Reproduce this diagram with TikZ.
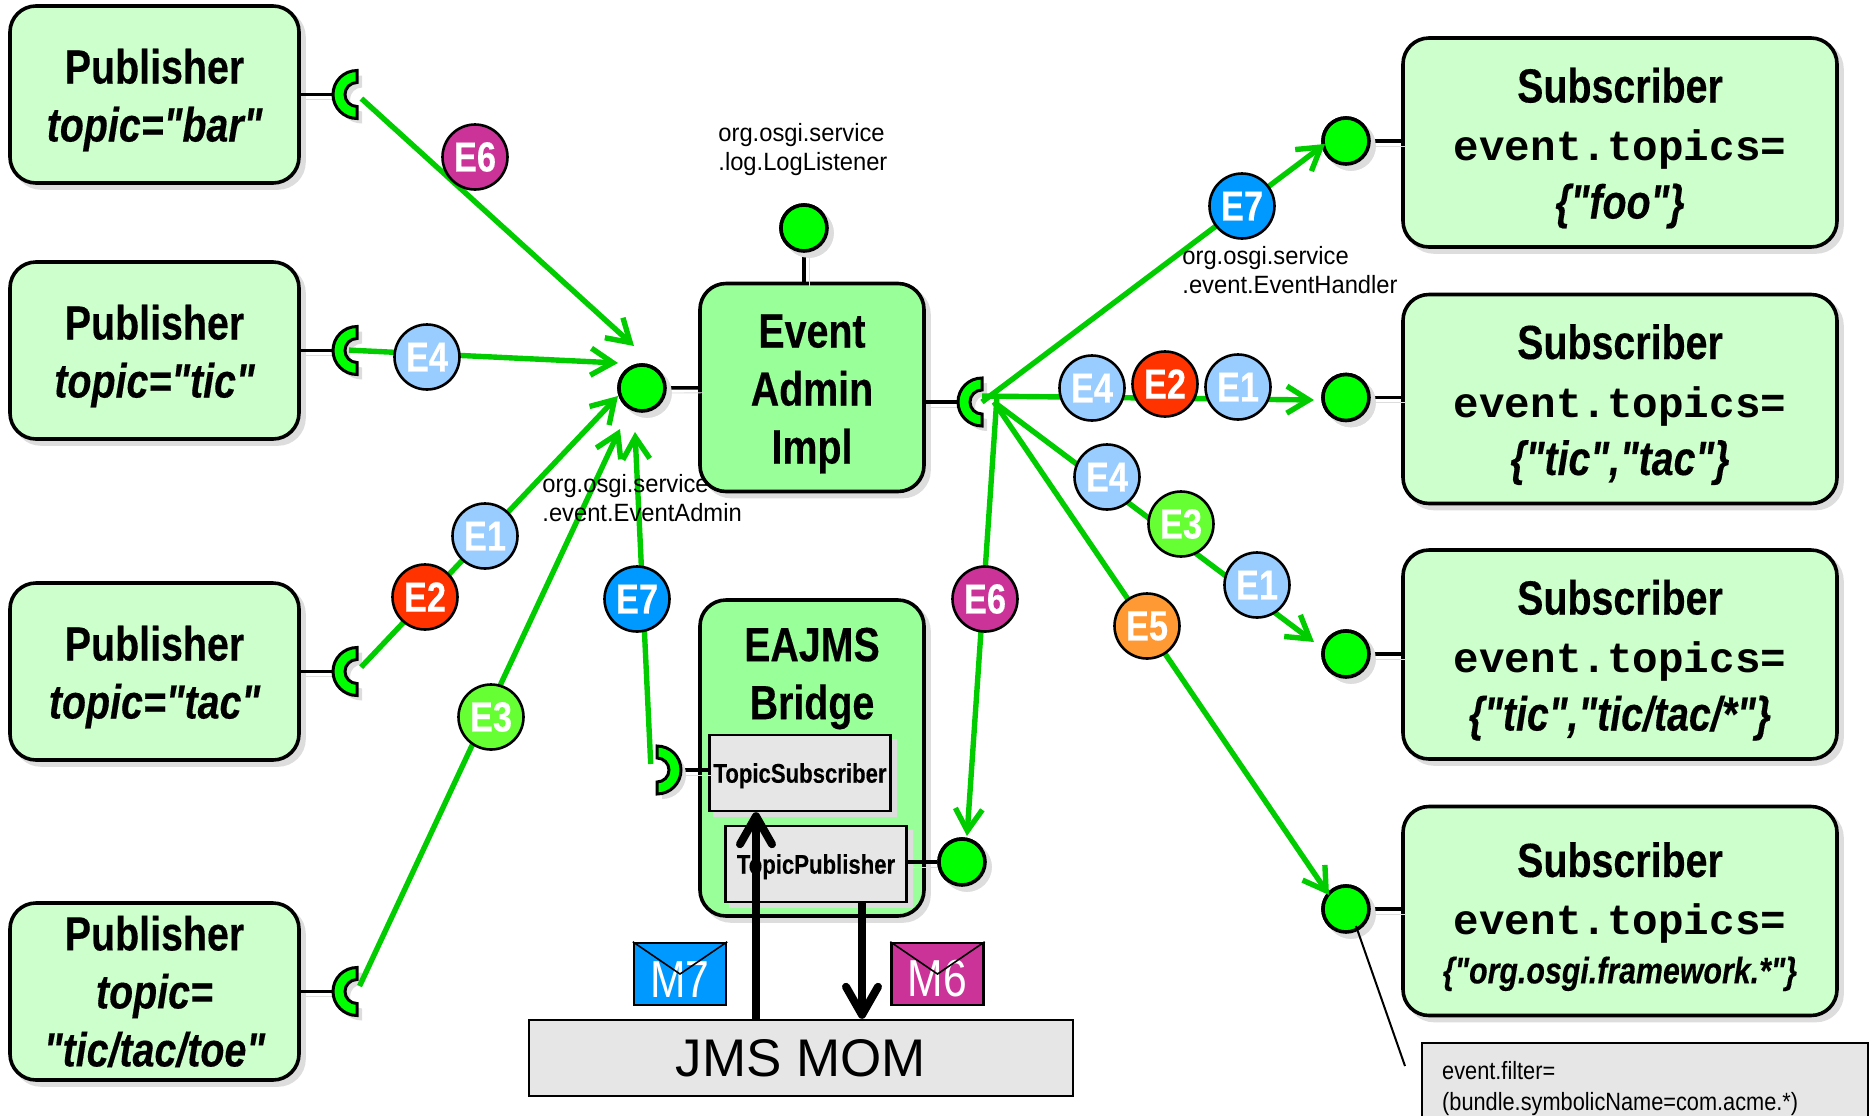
\documentclass[tikz,border=0pt]{standalone}
\usepackage{fontspec}
\usepackage{xcolor}
\usetikzlibrary{shapes,arrows,arrows.meta,positioning,shadows}
\setmainfont{Liberation Sans}
\newfontfamily\narrowfont[FakeStretch=0.82,BoldFeatures={FakeBold=0.3},BoldItalicFeatures={FakeBold=0.3}]{Liberation Sans}
\newfontfamily\smallfont[FakeStretch=0.95]{Liberation Sans}
\newfontfamily\filterfont[FakeStretch=0.87]{Liberation Sans}
\newfontfamily\codefont{Liberation Mono}
\definecolor{paleGreen}{HTML}{CCFFCC}
\definecolor{midGreen}{HTML}{99FF99}
\definecolor{portGreen}{HTML}{00FF00}
\definecolor{flowGreen}{HTML}{00CC00}
\definecolor{softGray}{HTML}{E6E6E6}
\definecolor{shadowGray}{HTML}{DDDDDD}
\definecolor{evBlue}{HTML}{99CCFF}
\definecolor{evRed}{HTML}{FF3300}
\definecolor{evLime}{HTML}{66FF33}
\definecolor{evAzure}{HTML}{0099FF}
\definecolor{evMagenta}{HTML}{CC3399}
\definecolor{evOrange}{HTML}{FF9933}
\newcommand{\topicsline}{{\codefont\fontsize{21.3}{29}\selectfont event.topics=}}
\newcommand{\lifted}{\rule{0pt}{23pt}}
\tikzset{
  recept/.pic={
    \fill[shadowGray, shift={(5,5)}, xscale=#1] (0,24) arc (90:270:24) -- (0,-12) arc (270:90:12) -- cycle;
    \draw[fill=portGreen, line width=1.5pt, xscale=#1] (0,24) arc (90:270:24) -- (0,-12) arc (270:90:12) -- cycle;
  }
}

\begin{document}
\begin{tikzpicture}[x=0.5pt, y=-0.5pt]
      \tikzstyle{softshadow} = [drop shadow={shadow xshift=2.5pt, shadow yshift=-2.5pt, fill=shadowGray, draw=shadowGray, opacity=1}]
      \tikzstyle{title} = [align=center, font=\narrowfont\bfseries\fontsize{24}{29}\selectfont]
      \tikzstyle{publisher} = [title, rectangle, rounded corners=13pt, draw, line width=1.8pt, fill=paleGreen, softshadow, minimum width=144.5pt, minimum height=88.5pt, inner sep=0pt]
      \tikzstyle{subscriber} = [publisher, minimum width=217pt, minimum height=104.5pt]
      \tikzstyle{impl} = [publisher, fill=midGreen, minimum width=112pt, minimum height=104pt]
      \tikzstyle{socket} = [circle, draw, line width=1.8pt, fill=portGreen, softshadow, minimum size=23pt, inner sep=0pt]
      \tikzstyle{port} = [circle, minimum size=24pt, inner sep=0pt]
      \tikzstyle{stub} = [draw, line width=1.8pt, softshadow]
      \tikzstyle{flow} = [draw=flowGreen, line width=2.7pt, -{Straight Barb[length=11pt, width=13.5pt]}]
      \tikzstyle{jms} = [line width=4pt, -{Straight Barb[length=14pt, width=16pt, round]}]
      \tikzstyle{grayrect} = [rectangle, draw, line width=1.2pt, fill=softGray, inner sep=0pt]
      \tikzstyle{classbox} = [grayrect, softshadow, font=\narrowfont\bfseries\fontsize{13.5}{17}\selectfont, minimum width=90.5pt, minimum height=38pt, execute at begin node={\rule{0pt}{12.5pt}}]
      \tikzstyle{note} = [align=left, anchor=west, inner sep=0pt, font=\smallfont\fontsize{12.5}{14.5}\selectfont]
      \tikzstyle{badge} = [circle, draw, line width=1.3pt, text=white, minimum size=32.5pt, inner sep=0pt, font=\narrowfont\bfseries\fontsize{21}{25}\selectfont]
      \tikzstyle{envelope} = [rectangle, draw, line width=1.2pt, text=white, minimum width=46pt, minimum height=31pt, inner sep=0pt, font=\narrowfont\fontsize{26}{30}\selectfont, execute at begin node={\rule{0pt}{23pt}}]

      \useasboundingbox (0,0) rectangle (1876,1115);
      \clip (0,0) rectangle (1876,1115);

      % publishers
      \node[publisher] (pubBar) at (154.5,94.5) {\lifted Publisher\\\itshape topic="bar"};
      \node[publisher] (pubTic) at (154.5,350.5) {\lifted Publisher\\\itshape topic="tic"};
      \node[publisher] (pubTac) at (154.5,671.5) {\lifted Publisher\\\itshape topic="tac"};
      \node[publisher] (pubToe) at (154.5,991.5) {Publisher\\\itshape topic=\\\itshape "tic/tac/toe"};

      \node[port] (recBar) at (357,94.5) {};
      \node[port] (recTic) at (357,350.5) {};
      \node[port] (recTac) at (357,671.5) {};
      \node[port] (recToe) at (357,991.5) {};

      % subscribers
      \node[subscriber] (subFoo) at (1620,142.5) {\lifted Subscriber\\\topicsline\\\itshape \{"foo"\}};
      \node[subscriber] (subTac) at (1620,399) {\lifted Subscriber\\\topicsline\\\itshape \{"tic","tac"\}};
      \node[subscriber] (subAll) at (1620,654.5) {\lifted Subscriber\\\topicsline\\\itshape \{"tic","tic/tac/*"\}};
      \node[subscriber] (subOrg) at (1620,911) {\lifted Subscriber\\\topicsline\\[-4.8pt]\itshape\fontsize{18.5}{29}\selectfont \{"org.osgi.framework.*"\}};

      \node[socket] (sockFoo) at (1346,141) {};
      \node[socket] (sockTac) at (1346,397.5) {};
      \node[socket] (sockAll) at (1346,654) {};
      \node[socket] (sockOrg) at (1346,909) {};

      % event admin
      \node[impl] (admin) at (812,387.5) {\lifted Event\\Admin\\Impl};
      \node[socket] (sockAdmin) at (642,388) {};
      \node[socket] (sockLog) at (804,228) {};
      \node[port] (recAdmin) at (982,402) {};

      % bridge
      \node[impl, minimum height=158pt] (bridge) at (812,758) {};
      \node[title] (bridgeName) at (812,678.5) {EAJMS\\Bridge};
      \node[classbox] (topicSub) at (800,773) {TopicSubscriber};
      \node[classbox] (topicPub) at (816,864) {TopicPublisher};
      \node[port] (recBridge) at (657,770) {};
      \node[socket] (sockBridge) at (962,862) {};

      \node[grayrect, font=\fontsize{26.5}{30}\selectfont, minimum width=272pt, minimum height=38pt] (mom) at (801,1058) {JMS MOM};
      \node[envelope, fill=evAzure] (envSeven) at (680,974) {M7};
      \node[envelope, fill=evMagenta] (envSix) at (937.5,974) {M6};
      \draw[line width=0.8pt] (envSeven.north west) -- (envSeven.center) -- (envSeven.north east);
      \draw[line width=0.8pt] (envSix.north west) -- (envSix.center) -- (envSix.north east);

      \node[grayrect, anchor=north west, align=left, text width=203pt, inner xsep=10pt, minimum height=45.5pt, font=\filterfont\fontsize{12.5}{15.5}\selectfont] (filter) at (1421,1042) {event.filter=\\(bundle.symbolicName=com.acme.*)};

      % stubs
      \path[stub] (pubBar) -- (recBar);
      \path[stub] (pubTic) -- (recTic);
      \path[stub] (pubTac) -- (recTac);
      \path[stub] (pubToe) -- (recToe);
      \path[stub] (subFoo.west |- sockFoo) -- (sockFoo);
      \path[stub] (subTac.west |- sockTac) -- (sockTac);
      \path[stub] (subAll.west |- sockAll) -- (sockAll);
      \path[stub] (subOrg.west |- sockOrg) -- (sockOrg);
      \path[stub] (sockAdmin) -- (admin);
      \path[stub] (sockLog) -- (sockLog |- admin.north);
      \path[stub] (admin.east |- recAdmin) -- (recAdmin);
      \path[stub] (recBridge) -- (recBridge -| topicSub.west);
      \path[stub] (topicPub.east |- sockBridge) -- (sockBridge);

      \pic at (recBar.center) {recept=1};
      \pic at (recTic.center) {recept=1};
      \pic at (recTac.center) {recept=1};
      \pic at (recToe.center) {recept=1};
      \pic at (recAdmin.center) {recept=1};
      \pic at (recBridge.center) {recept=-1};

      \node[socket] at (sockFoo) {};
      \node[socket] at (sockTac) {};
      \node[socket] at (sockAll) {};
      \node[socket] at (sockOrg) {};
      \node[socket] at (sockAdmin) {};
      \node[socket] at (sockLog) {};
      \node[socket] at (sockBridge) {};

      % where the arrows end
      \coordinate (tipBar) at (634,346);
      \coordinate (tipTic) at (618,363);
      \coordinate (tipTac) at (618,396);
      \coordinate (tipToe) at (620,429);
      \coordinate (tipJms) at (635,432);
      \coordinate (tipFoo) at (1325,144);
      \coordinate (tipTacSub) at (1314,400);
      \coordinate (tipAll) at (1314,642);
      \coordinate (tipOrg) at (1329,895);
      \coordinate (tipBridge) at (967,836);
      \coordinate (filterEnd) at (1405,1066);

      % events
      \draw[flow, shorten <=3pt] (recBar.center) -- (tipBar);
      \draw[flow, shorten <=-4pt] (recTic.center) -- (tipTic);
      \draw[flow, shorten <=3pt] (recTac.center) -- (tipTac);
      \draw[flow, shorten <=3pt] (recToe.center) -- (tipToe);
      \draw[flow, shorten <=3pt] ([xshift=-3pt]recBridge.center) -- (tipJms);
      \draw[flow] (recAdmin.center) -- (tipFoo);
      \draw[flow] ([yshift=3pt]recAdmin.center) -- (tipTacSub);
      \draw[flow] ([xshift=6pt]recAdmin.center) -- (tipAll);
      \draw[flow] ([xshift=6pt]recAdmin.center) -- (tipOrg);
      \draw[flow] ([xshift=7.5pt,yshift=3pt]recAdmin.center) -- (tipBridge);

      \draw[jms] ([xshift=-22.5pt]mom.north) -- ([xshift=-22pt]topicSub.south);
      \draw[jms] ([xshift=23pt]topicPub.south) -- ([xshift=30.5pt]mom.north);
      \draw[line width=1pt] (sockOrg) ++(10,17) -- (filterEnd);

      % service names
      \node[note] (logName) at (718,150) {org.osgi.service\\.log.LogListener};
      \node[note] (adminName) at (542,498) {org.osgi.service\\.event.EventAdmin};
      \node[note] (handlerName) at (1182,270) {org.osgi.service\\.event.EventHandler};

      % badges
      \node[badge, fill=evMagenta] (evSixA) at (475,157) {E6};
      \node[badge, fill=evBlue] (evFourA) at (427,357) {E4};
      \node[badge, fill=evBlue] (evOneA) at (485,536) {E1};
      \node[badge, fill=evRed] (evTwoA) at (425,597) {E2};
      \node[badge, fill=evLime] (evThreeA) at (491,717) {E3};
      \node[badge, fill=evAzure] (evSevenA) at (637,599) {E7};
      \node[badge, fill=evMagenta] (evSixB) at (985,599) {E6};
      \node[badge, fill=evAzure] (evSevenB) at (1242,206) {E7};
      \node[badge, fill=evBlue] (evFourB) at (1092,388) {E4};
      \node[badge, fill=evRed] (evTwoB) at (1165,384) {E2};
      \node[badge, fill=evBlue] (evOneB) at (1238,387) {E1};
      \node[badge, fill=evBlue] (evFourC) at (1107,477) {E4};
      \node[badge, fill=evLime] (evThreeB) at (1181,524) {E3};
      \node[badge, fill=evBlue] (evOneC) at (1257,585) {E1};
      \node[badge, fill=evOrange] (evFive) at (1147,626) {E5};
\end{tikzpicture}
\end{document}
